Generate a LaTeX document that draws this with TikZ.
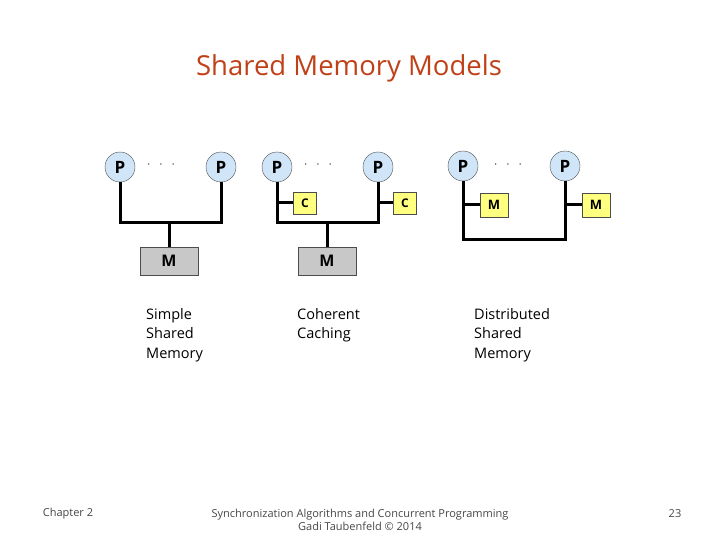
\documentclass[tikz,border=0pt]{standalone}
\usepackage{fontspec}
\setmainfont{Open Sans}
\usepackage{xcolor}
\definecolor{titlered}{RGB}{192,64,24}
\definecolor{procblue}{RGB}{208,230,248}
\definecolor{cacheyellow}{RGB}{255,255,128}
\definecolor{memgrey}{RGB}{200,200,200}
\definecolor{footgrey}{RGB}{70,70,70}
\tikzset{
    proc-circle/.style = {circle, draw=black!70, fill=procblue, thin, minimum size=30pt, inner sep=0pt, font=\bfseries\fontsize{17}{17}\selectfont},
    cache-box/.style = {rectangle, draw=black!70, fill=cacheyellow, thin, minimum width=23pt, minimum height=22pt, inner sep=0pt, font=\bfseries\fontsize{12}{12}\selectfont},
    mem-box/.style = {rectangle, draw=black!70, fill=memgrey, thin, minimum width=58pt, minimum height=28pt, inner sep=0pt, font=\bfseries\fontsize{16}{16}\selectfont},
    bus-line/.style = {draw=black, line width=3pt},
    model-label/.style = {anchor=north west, align=left, inner sep=0pt, font=\fontsize{14.5}{19.5}\selectfont},
    footer-text/.style = {text=footgrey, font=\fontsize{11}{13.5}\selectfont, align=center},
}
\begin{document}
\begin{tikzpicture}[x=1pt,y=-1pt]
\useasboundingbox (0,0) rectangle (720,540);
\node[text=titlered, font=\fontsize{27.5}{32}\selectfont] (title) at (349,68) {Shared Memory Models};

% simple shared memory
\node[proc-circle] (p1) at (120,167) {P};
\node[proc-circle] (p2) at (221,167) {P};
\node[font=\large] (dots1) at (161,165) {$\cdot\ \ \cdot\ \ \cdot$};
\node[mem-box] (m1) at (169,261) {M};
\coordinate (bus1) at (169,223);
\draw[bus-line] (p1) |- (bus1) -| (p2);
\draw[bus-line] (bus1) -- (m1);

% coherent caching
\node[proc-circle] (p3) at (277,167) {P};
\node[proc-circle] (p4) at (378,167) {P};
\node[font=\large] (dots2) at (318,165) {$\cdot\ \ \cdot\ \ \cdot$};
\node[cache-box] (c1) at (305,203) {C};
\node[cache-box] (c2) at (405,203) {C};
\node[mem-box] (m2) at (327,261) {M};
\coordinate (bus2) at (327,223);
\draw[bus-line] (p3) |- (bus2) -| (p4);
\draw[bus-line] (bus2) -- (m2);
\draw[bus-line] (c1.west) -- (c1.west -| p3);
\draw[bus-line] (c2.west) -- (c2.west -| p4);

% distributed shared memory
\node[proc-circle] (p5) at (463,166) {P};
\node[proc-circle] (p6) at (565,166) {P};
\node[font=\large] (dots3) at (508,165) {$\cdot\ \ \cdot\ \ \cdot$};
\node[cache-box, minimum width=28pt, minimum height=24pt, font=\bfseries\fontsize{13}{13}\selectfont] (m3) at (494,205) {M};
\node[cache-box, minimum width=28pt, minimum height=24pt, font=\bfseries\fontsize{13}{13}\selectfont] (m4) at (596,205) {M};
\coordinate (bus3) at (514,239);
\draw[bus-line] (p5) |- (bus3) -| (p6);
\draw[bus-line] (m3.west) -- (m3.west -| p5);
\draw[bus-line] (m4.west) -- (m4.west -| p6);

% labels
\node[model-label] (lab1) at (146,308) {Simple\\Shared\\Memory};
\node[model-label] (lab2) at (297,308) {Coherent\\Caching};
\node[model-label] (lab3) at (474,308) {Distributed\\Shared\\Memory};

% footer
\node[footer-text] (chap) at (68,514) {Chapter 2};
\node[footer-text] (course) at (360,520) {Synchronization Algorithms and Concurrent Programming\\Gadi Taubenfeld \textcopyright{} 2014};
\node[footer-text] (page) at (675,514) {23};
\end{tikzpicture}
\end{document}
